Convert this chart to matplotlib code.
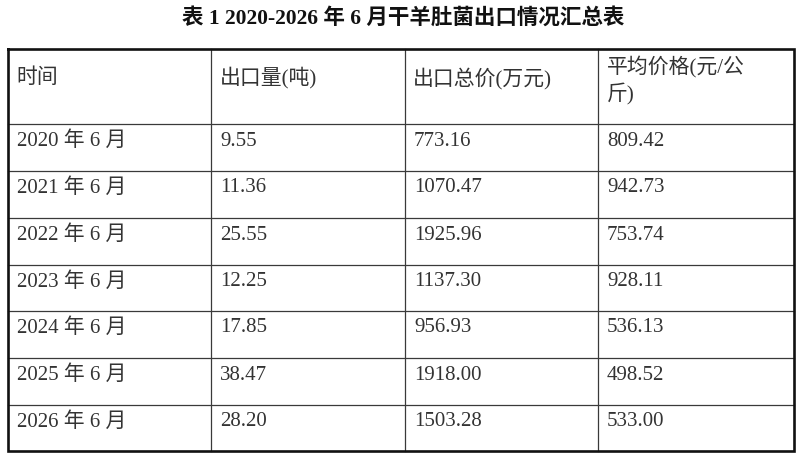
import matplotlib.pyplot as plt

# table contents
title = '表 1 2020-2026 年 6 月干羊肚菌出口情况汇总表'
headers = ['时间', '出口量(吨)', '出口总价(万元)', '平均价格(元/公\n斤)']
months = ['2020 年 6 月', '2021 年 6 月', '2022 年 6 月', '2023 年 6 月',
          '2024 年 6 月', '2025 年 6 月', '2026 年 6 月']
volume = ['9.55', '11.36', '25.55', '12.25', '17.85', '38.47', '28.20']
total_value = ['773.16', '1070.47', '1925.96', '1137.30', '956.93', '1918.00', '1503.28']
avg_price = ['809.42', '942.73', '753.74', '928.11', '536.13', '498.52', '533.00']

fonts = ['Liberation Serif', 'Noto Sans CJK SC', 'DejaVu Sans']
plt.rcParams['font.family'] = fonts

W, H = 800, 462
fig = plt.figure(figsize=(W / 100, H / 100), dpi=100)
ax = fig.add_axes([0, 0, 1, 1])
ax.set_xlim(0, W)
ax.set_ylim(H, 0)
ax.axis('off')

# layout in pixels
col_x = [8, 211, 405, 598, 794]
row_y = [49, 124, 171, 218, 265, 311, 358, 405, 451]

ax.text(W / 2 + 3, 18, title, ha='center', va='center', fontsize=15.5,
        fontweight='bold', color='#111111')

# grid lines
for x in col_x[1:-1]:
    ax.plot([x, x], [row_y[0], row_y[-1]], color='#3a3a3a', lw=0.9)
for y in row_y[1:-1]:
    ax.plot([col_x[0], col_x[-1]], [y, y], color='#3a3a3a', lw=0.9)
ax.plot([col_x[0], col_x[-1], col_x[-1], col_x[0], col_x[0]],
        [row_y[0], row_y[0], row_y[-1], row_y[-1], row_y[0]],
        color='#111111', lw=1.9, solid_joinstyle='miter')

# header row
ax.text(col_x[0] + 8, 78, headers[0], ha='left', va='center',
        fontsize=15, color='#333333')
ax.text(col_x[1] + 9, 78, headers[1], ha='left', va='center',
        fontsize=15, color='#333333')
ax.text(col_x[2] + 8, 78, headers[2], ha='left', va='center',
        fontsize=15, color='#333333')
ax.text(col_x[3] + 9, 81, headers[3], ha='left', va='center',
        fontsize=15, color='#333333', linespacing=1.3)

# body rows
rows = list(zip(months, volume, total_value, avg_price))
for i, row in enumerate(rows):
    y = row_y[i + 1] + 17
    for j, val in enumerate(row):
        ax.text(col_x[j] + 9, y, val, ha='left', va='center',
                fontsize=15, color='#333333')

fig.savefig('out.png', dpi=100, facecolor='white')
